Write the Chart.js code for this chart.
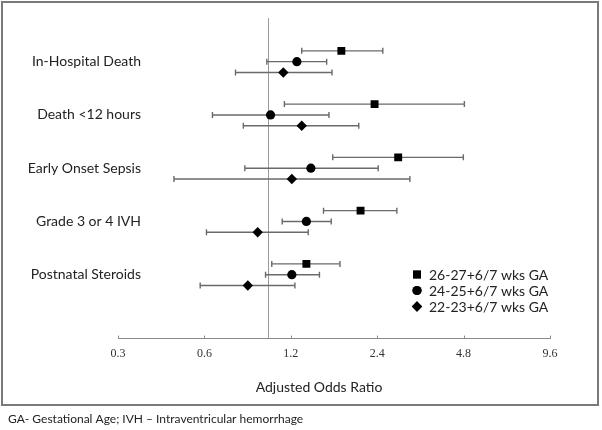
<!DOCTYPE html>
<html>
<head>
<meta charset="utf-8">
<script src="https://cdn.jsdelivr.net/npm/chart.js@4"></script>
<style>
html,body{margin:0;padding:0;background:#fff;}
#wrap{position:relative;width:602px;height:430px;}
canvas{display:block;}
</style>
</head>
<body>
<div id="wrap"><canvas id="c" width="602" height="430"></canvas></div>
<script>
// ---- data ----
const categories = ['In-Hospital Death', 'Death <12 hours', 'Early Onset Sepsis', 'Grade 3 or 4 IVH', 'Postnatal Steroids'];
const seriesLabels = ['26-27+6/7 wks GA', '24-25+6/7 wks GA', '22-23+6/7 wks GA'];
const tickValues = [0.3, 0.6, 1.2, 2.4, 4.8, 9.6];
const refValue = 1.0;
const axisTitle = 'Adjusted Odds Ratio';
const footnote = 'GA- Gestational Age; IVH \u2013 Intraventricular hemorrhage';

const or26 = [1.80, 2.35, 2.84, 2.10, 1.36];
const lo26 = [1.31, 1.14, 1.68, 1.56, 1.03];
const hi26 = [2.51, 4.83, 4.79, 2.81, 1.78];

const or24 = [1.26, 1.02, 1.41, 1.36, 1.21];
const lo24 = [0.99, 0.64, 0.83, 1.12, 0.98];
const hi24 = [1.60, 1.63, 2.42, 1.66, 1.51];

const or22 = [1.13, 1.31, 1.21, 0.92, 0.85];
const lo22 = [0.77, 0.82, 0.47, 0.61, 0.58];
const hi22 = [1.67, 2.07, 3.12, 1.38, 1.24];

// ---- build ----
const series = [
  {label: seriesLabels[0], or: or26, lo: lo26, hi: hi26, style: 'rect', radius: 5.6, offset: -0.203},
  {label: seriesLabels[1], or: or24, lo: lo24, hi: hi24, style: 'circle', radius: 4.6, offset: 0},
  {label: seriesLabels[2], or: or22, lo: lo22, hi: hi22, style: 'rectRot', radius: 5.2, offset: 0.203}
];

const datasets = series.map(s => ({
  label: s.label,
  data: s.or.map((v, i) => ({x: v, y: i + s.offset, lo: s.lo[i], hi: s.hi[i]})),
  pointStyle: s.style,
  pointRadius: s.radius,
  pointHoverRadius: s.radius,
  backgroundColor: '#000',
  borderColor: '#000',
  borderWidth: 0,
  showLine: false
}));

const sansFont = 'Lato, "Open Sans", sans-serif';

const forestPlugin = {
  id: 'forest',
  beforeDraw(chart) {
    const ctx = chart.ctx;
    const xs = chart.scales.x;
    const area = chart.chartArea;
    ctx.save();
    ctx.strokeStyle = '#7a7a7a';
    ctx.lineWidth = 2;
    ctx.strokeRect(2, 2, 596, 403);
    const rx = Math.round(xs.getPixelForValue(refValue)) + 0.5;
    ctx.strokeStyle = '#9a9a9a';
    ctx.lineWidth = 1;
    ctx.beginPath();
    ctx.moveTo(rx, area.top);
    ctx.lineTo(rx, area.bottom);
    ctx.stroke();
    ctx.restore();
  },
  beforeDatasetsDraw(chart) {
    const ctx = chart.ctx;
    const xs = chart.scales.x, ys = chart.scales.y;
    ctx.save();
    ctx.strokeStyle = '#6a6a6a';
    ctx.lineWidth = 1.4;
    chart.data.datasets.forEach(ds => {
      ds.data.forEach(p => {
        const y = ys.getPixelForValue(p.y);
        const x1 = xs.getPixelForValue(p.lo), x2 = xs.getPixelForValue(p.hi);
        ctx.beginPath();
        ctx.moveTo(x1, y); ctx.lineTo(x2, y);
        ctx.moveTo(x1, y - 3); ctx.lineTo(x1, y + 3);
        ctx.moveTo(x2, y - 3); ctx.lineTo(x2, y + 3);
        ctx.stroke();
      });
    });
    ctx.restore();
  },
  afterDraw(chart) {
    const ctx = chart.ctx;
    const xs = chart.scales.x, ys = chart.scales.y;
    const area = chart.chartArea;
    ctx.save();
    ctx.strokeStyle = '#8a8a8a';
    ctx.lineWidth = 1;
    tickValues.forEach(v => {
      const x = Math.round(xs.getPixelForValue(v)) + 0.5;
      ctx.beginPath();
      ctx.moveTo(x, area.bottom); ctx.lineTo(x, area.bottom - 3);
      ctx.stroke();
    });
    ctx.fillStyle = '#222';
    ctx.font = '14px ' + sansFont;
    ctx.textAlign = 'right';
    ctx.textBaseline = 'middle';
    categories.forEach((c, i) => {
      ctx.fillText(c, 141, ys.getPixelForValue(i));
    });
    ctx.textAlign = 'center';
    ctx.font = '14px ' + sansFont;
    ctx.fillText(axisTitle, 319, 387);
    ctx.textAlign = 'left';
    const ly = [274.5, 290.5, 306.5];
    chart.data.datasets.forEach((ds, i) => {
      Chart.helpers.drawPoint(ctx, {pointStyle: ds.pointStyle, radius: ds.pointRadius, borderWidth: 0}, 417, ly[i]);
      ctx.fillStyle = '#000';
      ctx.fill();
      ctx.fillStyle = '#222';
      ctx.fillText(ds.label, 429, ly[i] + 0.5);
    });
    ctx.font = '12px ' + sansFont;
    ctx.fillStyle = '#222';
    ctx.fillText(footnote, 8, 419);
    ctx.restore();
  }
};

new Chart(document.getElementById('c'), {
  type: 'scatter',
  data: {datasets},
  options: {
    responsive: false,
    animation: false,
    events: [],
    layout: {padding: {left: 118, right: 52, top: 18, bottom: 61}},
    plugins: {legend: {display: false}, tooltip: {enabled: false}},
    scales: {
      x: {
        type: 'logarithmic',
        min: 0.3, max: 9.6,
        afterBuildTicks: scale => { scale.ticks = tickValues.map(v => ({value: v})); },
        grid: {display: false, drawTicks: false},
        border: {display: true, color: '#8a8a8a', width: 1},
        ticks: {
          autoSkip: false, maxRotation: 0, padding: 8,
          color: '#333',
          font: {family: '"Liberation Serif", "Times New Roman", serif', size: 12},
          callback: v => String(v)
        }
      },
      y: {
        type: 'linear', reverse: true, min: -0.82, max: 5.2,
        display: false
      }
    }
  },
  plugins: [forestPlugin]
});
</script>
</body>
</html>
